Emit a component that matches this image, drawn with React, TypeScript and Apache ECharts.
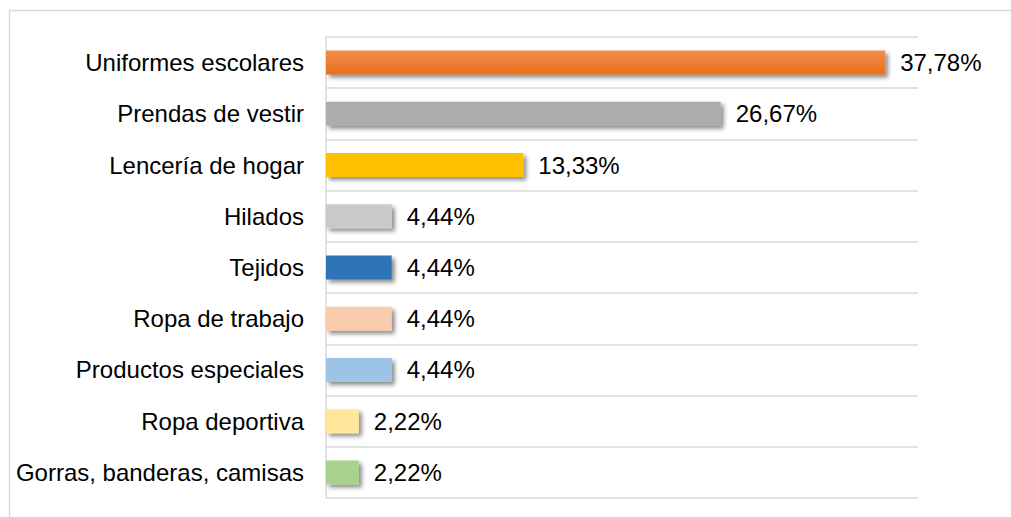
import React, { useEffect, useRef } from "react";
import * as echarts from "echarts";

const categories = [
  "Uniformes escolares",
  "Prendas de vestir",
  "Lencería de hogar",
  "Hilados",
  "Tejidos",
  "Ropa de trabajo",
  "Productos especiales",
  "Ropa deportiva",
  "Gorras, banderas, camisas",
];
const values = [37.78, 26.67, 13.33, 4.44, 4.44, 4.44, 4.44, 2.22, 2.22];
const colors = [
  "#ED7D31",
  "#AEABAB",
  "#FFC000",
  "#C9C9C9",
  "#2E75B6",
  "#F8CBAD",
  "#9DC3E6",
  "#FFE699",
  "#A9D18E",
];

export default function App() {
  const ref = useRef<HTMLDivElement>(null);
  useEffect(() => {
    if (!ref.current) return;
    const chart = echarts.init(ref.current, undefined, { renderer: "svg" });
    const font = "'Liberation Sans', Arial, sans-serif";
    chart.setOption({
      animation: false,
      backgroundColor: "#ffffff",
      graphic: [
        {
          type: "rect",
          shape: { x: 9.5, y: 10.5, width: 1100, height: 600 },
          style: { fill: "none", stroke: "#d9d9d9", lineWidth: 1.5 },
          silent: true,
        },
      ],
      grid: { left: 326, top: 37, width: 592, height: 461, containLabel: false },
      xAxis: {
        type: "value",
        min: 0,
        max: 40,
        show: false,
      },
      yAxis: {
        type: "category",
        inverse: true,
        data: categories,
        axisTick: { show: false },
        axisLine: { show: true, lineStyle: { color: "#d9d9d9", width: 1.5 } },
        splitLine: { show: true, lineStyle: { color: "#d9d9d9", width: 1.5 } },
        axisLabel: { margin: 22, fontSize: 24, color: "#000", fontFamily: font },
      },
      series: [
        {
          type: "bar",
          barWidth: 24,
          data: values.map((v, i) => ({
            value: v,
            itemStyle: {
              color:
                i === 0
                  ? new echarts.graphic.LinearGradient(0, 0, 0, 1, [
                      { offset: 0, color: "#F28C4E" },
                      { offset: 1, color: "#E86E1C" },
                    ])
                  : colors[i],
              shadowColor: "rgba(0,0,0,0.45)",
              shadowBlur: 4,
              shadowOffsetX: 3,
              shadowOffsetY: 3,
            },
          })),
          label: {
            show: true,
            position: "right",
            distance: 15,
            fontSize: 24,
            color: "#000",
            fontFamily: font,
            formatter: (p: any) => p.value.toFixed(2).replace(".", ",") + "%",
          },
        },
      ],
    });
    return () => chart.dispose();
  }, []);
  return (
    <div
      ref={ref}
      style={{ position: "fixed", left: 0, top: 0, width: 1011, height: 517 }}
    />
  );
}
